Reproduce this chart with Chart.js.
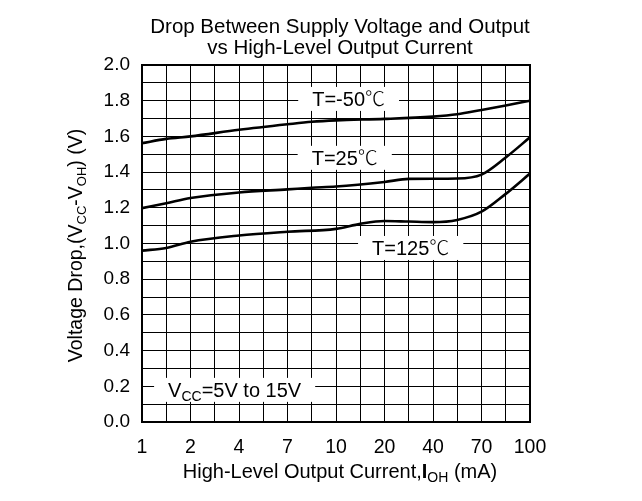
<!DOCTYPE html>
<html>
<head>
<meta charset="utf-8">
<script src="https://cdn.jsdelivr.net/npm/chart.js@4/dist/chart.umd.min.js"></script>
<style>
body { margin: 0; background: #fff; }
canvas { display: block; }
</style>
</head>
<body>
<canvas id="myChart" width="642" height="501"></canvas>
<script>
// x axis is drawn evenly spaced: one label every two grid columns
var xLabels = ['1', '2', '4', '7', '10', '20', '40', '70', '100'];

// curve samples, x in label-index units (0 = "1 mA", 8 = "100 mA")
var xMinus50 = [0, 0.5, 1, 2, 3, 3.5, 4, 5, 6, 6.5, 7, 7.5, 8];
var yMinus50 = [1.562, 1.586, 1.600, 1.637, 1.668, 1.682, 1.690, 1.698, 1.711, 1.724, 1.748, 1.773, 1.800];

var x25 = [0, 0.5, 1, 2, 3, 3.5, 4, 5, 5.5, 6, 6.5, 7, 7.5, 8];
var y25 = [1.198, 1.226, 1.255, 1.286, 1.303, 1.312, 1.319, 1.345, 1.362, 1.363, 1.364, 1.386, 1.482, 1.595];

var x125 = [0, 0.5, 1, 2, 3, 4, 4.5, 5, 5.5, 6, 6.5, 7, 7.5, 8];
var y125 = [0.960, 0.975, 1.010, 1.045, 1.066, 1.082, 1.110, 1.126, 1.123, 1.120, 1.132, 1.178, 1.278, 1.392];

// in-plot labels: text, x (index units), y (V)
var noteText = ['T=-50', 'T=25', 'T=125'];
var noteX = [4.26, 4.18, 5.54];
var noteY = [1.81, 1.48, 0.975];

var FONT = 'Arial, "Liberation Sans", sans-serif';
var CJK = '"Noto Sans CJK SC", sans-serif';

function pts(xs, ys) {
  return xs.map(function (x, i) { return { x: x, y: ys[i] }; });
}

function runFont(r, size) {
  var s = r.sub ? Math.round(size * 0.68) : size;
  return (r.bold ? 'bold ' : '') + (r.light ? '300 ' : '') + s + 'px ' + (r.cjk ? CJK : FONT);
}

// draw text runs [{t, sub, bold, cjk}] centred at x,y
function runsWidth(c, runs, size) {
  var w = 0;
  runs.forEach(function (r) {
    c.font = runFont(r, size);
    w += c.measureText(r.t).width;
  });
  return w;
}
function drawRuns(c, runs, x, y, size) {
  var w = runsWidth(c, runs, size);
  var cx = x - w / 2;
  var base = y + size * 0.36;
  c.textBaseline = 'alphabetic';
  c.textAlign = 'left';
  c.fillStyle = '#000';
  runs.forEach(function (r) {
    c.font = runFont(r, size);
    c.fillText(r.t, cx, r.sub ? base + size * 0.2 : base);
    cx += c.measureText(r.t).width;
  });
  return w;
}

function boxedRuns(c, runs, x, y, size) {
  var w = runsWidth(c, runs, size);
  c.fillStyle = '#fff';
  c.fillRect(x - w / 2 - 14, y - 12, w + 28, 24);
  drawRuns(c, runs, x, y, size);
}

var textPlugin = {
  id: 'texts',
  afterDraw: function (chart) {
    var c = chart.ctx;
    var xs = chart.scales.x, ys = chart.scales.y;
    var a = chart.chartArea;
    c.save();

    // frame
    c.strokeStyle = '#000';
    c.lineWidth = 2;
    c.strokeRect(a.left, a.top, a.right - a.left, a.bottom - a.top);

    // title
    c.fillStyle = '#000';
    c.font = '20.5px ' + FONT;
    c.textAlign = 'center';
    c.textBaseline = 'middle';
    c.fillText('Drop Between Supply Voltage and Output', 340, 27);
    c.fillText('vs High-Level Output Current', 340, 48);

    // in-plot notes
    for (var i = 0; i < noteText.length; i++) {
      boxedRuns(c, [{ t: noteText[i] }, { t: '\u2103', cjk: true, light: true }],
        xs.getPixelForValue(noteX[i]), ys.getPixelForValue(noteY[i]), 20);
    }
    boxedRuns(c, [{ t: 'V' }, { t: 'CC', sub: true }, { t: '=5V to 15V' }],
      xs.getPixelForValue(1.91), ys.getPixelForValue(0.18), 20);

    // axis titles
    drawRuns(c, [{ t: 'High-Level Output Current,' }, { t: 'I', bold: true }, { t: 'OH', sub: true }, { t: ' (mA)' }],
      (a.left + a.right) / 2 + 4, 471, 20);

    c.translate(75, (a.top + a.bottom) / 2 + 2);
    c.rotate(-Math.PI / 2);
    drawRuns(c, [{ t: 'Voltage Drop,(V' }, { t: 'CC', sub: true }, { t: '-V' }, { t: 'OH', sub: true }, { t: ') (V)' }],
      0, 0, 19.5);
    c.restore();
  }
};

var ctx = document.getElementById('myChart');

var curve = function (data) {
  return {
    data: data,
    borderColor: '#000',
    borderWidth: 2.6,
    pointRadius: 0,
    fill: false,
    cubicInterpolationMode: 'monotone'
  };
};

var myChart = new Chart(ctx, {
  type: 'line',
  data: {
    datasets: [
      curve(pts(xMinus50, yMinus50)),
      curve(pts(x25, y25)),
      curve(pts(x125, y125))
    ]
  },
  options: {
    responsive: false,
    animation: false,
    layout: { padding: { left: 0, right: 112, top: 65, bottom: 0 } },
    plugins: { legend: { display: false }, tooltip: { enabled: false }, title: { display: false } },
    scales: {
      x: {
        type: 'linear',
        min: 0,
        max: 8,
        afterFit: function (s) { s.height = 79; },
        grid: { color: '#000', lineWidth: 1, drawTicks: false },
        border: { display: false },
        ticks: {
          stepSize: 0.5,
          autoSkip: false,
          maxRotation: 0,
          padding: 14,
          color: '#000',
          font: { family: FONT, size: 19.5 },
          callback: function (v) {
            return Number.isInteger(v) ? xLabels[v] : '';
          }
        }
      },
      y: {
        min: 0,
        max: 2,
        afterFit: function (s) { s.width = 142; },
        grid: { color: '#000', lineWidth: 1, drawTicks: false },
        border: { display: false },
        ticks: {
          stepSize: 0.1,
          autoSkip: false,
          padding: 12,
          color: '#000',
          font: { family: FONT, size: 19 },
          callback: function (v) {
            return Math.round(v * 10) % 2 === 0 ? v.toFixed(1) : '';
          }
        }
      }
    }
  },
  plugins: [textPlugin]
});
</script>
</body>
</html>
